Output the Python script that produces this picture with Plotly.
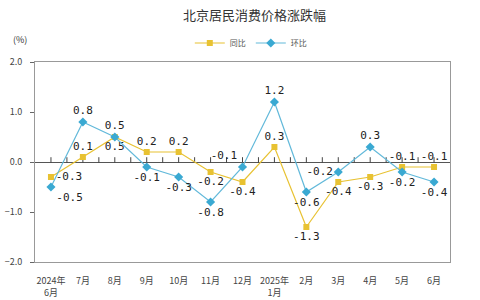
import plotly.graph_objects as go

months = ["2024年<br>6月", "7月", "8月", "9月", "10月", "11月", "12月",
          "2025年<br>1月", "2月", "3月", "4月", "5月", "6月"]
yoy = [-0.3, 0.1, 0.5, 0.2, 0.2, -0.2, -0.4, 0.3, -1.3, -0.4, -0.3, -0.1, -0.1]
mom = [-0.5, 0.8, 0.5, -0.1, -0.3, -0.8, -0.1, 1.2, -0.6, -0.2, 0.3, -0.2, -0.4]
yoy_pos = ["middle right", "top center", "bottom center", "top center", "top center",
           "bottom center", "bottom center", "top center", "bottom center",
           "bottom center", "bottom center", "top center", "top center"]
mom_pos = ["bottom right", "top center", "top center", "bottom center", "bottom center",
           "bottom center", "top left", "top center", "bottom center", "middle left",
           "top center", "bottom center", "bottom center"]

x = list(range(len(months)))
yellow = "#E8C232"
blue = "#3AA9D2"
lab_font = dict(family="DejaVu Sans Mono, monospace", size=11, color="#222")

fig = go.Figure()
# small tick marks on the zero line
half = [i / 2 for i in range(0, 2 * len(months) - 1)]
fig.add_trace(go.Scatter(x=half, y=[0.04] * len(half), mode="markers",
                         marker=dict(symbol="line-ns-open", size=4, color="#444",
                                     line=dict(color="#444", width=1)),
                         showlegend=False, hoverinfo="skip"))
fig.add_trace(go.Scatter(x=x, y=yoy, name="同比", mode="lines+markers+text",
                         line=dict(color=yellow, width=1.2),
                         marker=dict(symbol="square", size=6, color=yellow),
                         text=[f"{v:.1f}" for v in yoy], textposition=yoy_pos,
                         textfont=lab_font))
fig.add_trace(go.Scatter(x=x, y=mom, name="环比", mode="lines+markers+text",
                         line=dict(color="#62B9DA", width=1.2),
                         marker=dict(symbol="diamond", size=7, color=blue),
                         text=[f"{v:.1f}" for v in mom], textposition=mom_pos,
                         textfont=lab_font))

fig.update_layout(
    width=480, height=300,
    margin=dict(l=35, r=30, t=62, b=38),
    paper_bgcolor="white", plot_bgcolor="white",
    font=dict(family="Noto Sans CJK SC, sans-serif", color="#444"),
    title=dict(text="北京居民消费价格涨跌幅", x=0.53, xanchor="center", y=0.965,
               yanchor="top", font=dict(size=13, color="#333")),
    legend=dict(orientation="h", x=0.52, xanchor="center", y=1.095, yanchor="middle",
                font=dict(size=8, color="#555"), itemwidth=30,
                bgcolor="rgba(0,0,0,0)"),
    showlegend=True,
)
fig.update_xaxes(range=[-0.5, len(months) - 0.5], tickvals=x, ticktext=months,
                 showgrid=False, showline=True, mirror=True, linecolor="#999",
                 linewidth=1, ticks="", tickfont=dict(size=9, color="#444"),
                 ticklabelstandoff=10, automargin=False, zeroline=False,
                 fixedrange=True)
fig.update_yaxes(range=[-2, 2], tickvals=[2, 1, 0, -1, -2], tickformat=".1f",
                 showgrid=False, showline=True, mirror=True, linecolor="#999",
                 linewidth=1, ticks="outside", ticklen=4, tickcolor="#666",
                 tickfont=dict(size=9, color="#444"), ticklabelstandoff=6,
                 automargin=False,
                 zeroline=True, zerolinecolor="#555", zerolinewidth=1)
fig.add_annotation(text="(%)", xref="paper", yref="paper", x=-0.035, y=1.11,
                   xanchor="center", yanchor="middle", showarrow=False,
                   font=dict(size=9, color="#333"))

fig.write_html("out.html")
